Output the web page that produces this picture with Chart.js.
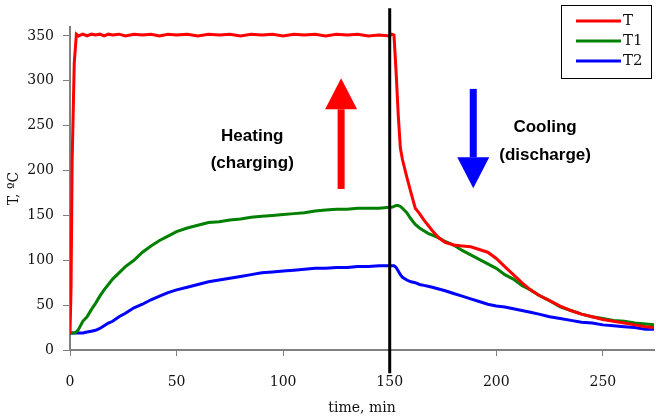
<!DOCTYPE html>
<html><head><meta charset="utf-8">
<script src="https://cdn.jsdelivr.net/npm/chart.js@4/dist/chart.umd.min.js"></script>
<style>html,body{margin:0;padding:0;background:#fff;}#wrap{width:656px;height:417px;position:relative;}</style>
</head><body><div id="wrap"><canvas id="c" width="656" height="417"></canvas></div>
<script>
// time, min
const time = [0,0.5,1,2,3,4,6,8,10,12,14,16,18,20,23,26,30,34,38,42,46,50,
  55,60,65,70,75,80,85,90,95,100,105,110,115,120,125,130,135,140,145,150,
  151,152,153,154,155,156,158,160,162,164,166,168,170,173,176,
  180,184,188,192,196,200,204,208,212,216,220,
  225,230,235,240,245,250,255,260,265,270,274];
const T = [18,70,210,320,352,350,352,350,352,351,352,350,352,351,352,350,352,351,352,350,352,351,
  352,350,352,351,352,350,352,351,352,350,352,351,352,350,352,351,352,350,351,350,
  352,351,310,262,225,212,193,175,158,152,145,139,133,125,120,
  117,116,115,112,109,102,93,84,75,67,61,
  55,49,44,40,37,34,32,30,28,26,25];
const T1 = [19,19,19,19,20,23,32,37,45,52,60,67,73,79,86,93,100,109,116,122,127,132,
  136,139,142,143,145,146,148,149,150,151,152,153,155,156,157,157,158,158,158,159,
  159,160,161,161,160,158,153,146,140,136,133,130,128,125,121,
  117,111,106,101,96,91,84,79,72,67,61,
  55,48,44,40,37,35,33,32,30,29,28];
const T2 = [19,19,19,19,19,19,19,20,21,22,24,27,30,32,37,41,47,51,56,60,64,67,
  70,73,76,78,80,82,84,86,87,88,89,90,91,91,92,92,93,93,94,94,
  94,94,92,88,84,81,78,76,75,73,72,71,70,68,66,
  63,60,57,54,51,49,48,46,44,42,40,
  37,35,33,31,30,28,27,26,25,23,23];
const seriesNames = ['T','T1','T2'];
const seriesColors = ['#ff0000','#008000','#0000ff'];
const xTickValues = [0,50,100,150,200,250];
const yTickValues = [0,50,100,150,200,250,300,350];
const switchTime = 150;

const toPts = arr => time.map((t,i)=>({x:t,y:arr[i]}));
const serif = 'DejaVu Serif';

const annotations = {
  texts: [
    {lines:['Heating','(charging)'], x:85.5, y:[237.8,208.5]},
    {lines:['Cooling','(discharge)'], x:222.9, y:[247.8,217.4]}
  ],
  arrows: [
    {x:127.2, from:179.5, base:268.3, tip:303, color:'#ff0000'},
    {x:189.2, from:291, base:214.8, tip:180.3, color:'#0000ff'}
  ]
};

const overlay = {
  id:'overlay',
  afterDatasetsDraw(chart){
    const ctx = chart.ctx, xs = chart.scales.x, ys = chart.scales.y;
    ctx.save();
    const vx = xs.getPixelForValue(switchTime);
    ctx.strokeStyle='#000'; ctx.lineWidth=3;
    ctx.beginPath(); ctx.moveTo(vx, ys.getPixelForValue(381)); ctx.lineTo(vx, ys.getPixelForValue(-26)); ctx.stroke();
    annotations.arrows.forEach(a=>{
      const x = xs.getPixelForValue(a.x);
      const y0 = ys.getPixelForValue(a.from), yb = ys.getPixelForValue(a.base), yt = ys.getPixelForValue(a.tip);
      ctx.fillStyle=a.color;
      ctx.fillRect(x-3.5, Math.min(y0,yb), 7, Math.abs(yb-y0));
      ctx.beginPath(); ctx.moveTo(x-16, yb); ctx.lineTo(x+16, yb); ctx.lineTo(x, yt); ctx.closePath(); ctx.fill();
    });
    ctx.fillStyle='#000'; ctx.font='bold 17px "Liberation Sans", Arial, sans-serif';
    ctx.textAlign='center'; ctx.textBaseline='middle';
    annotations.texts.forEach(t=>{
      t.lines.forEach((l,i)=>ctx.fillText(l, xs.getPixelForValue(t.x), ys.getPixelForValue(t.y[i])));
    });
    const lx = 561, ly = 5, lw = 90, lh = 73;
    ctx.fillStyle='#fff'; ctx.fillRect(lx,ly,lw,lh);
    ctx.strokeStyle='#000'; ctx.lineWidth=1; ctx.strokeRect(lx+0.5,ly+0.5,lw,lh);
    ctx.font='15px "'+serif+'"'; ctx.textAlign='left'; ctx.textBaseline='middle';
    chart.data.datasets.forEach((d,i)=>{
      const yy = ly + 16 + i*20;
      ctx.strokeStyle=d.borderColor; ctx.lineWidth=3;
      ctx.beginPath(); ctx.moveTo(lx+15, yy); ctx.lineTo(lx+60, yy); ctx.stroke();
      ctx.fillStyle='#111'; ctx.fillText(d.label, lx+62, yy);
    });
    ctx.restore();
  }
};

new Chart(document.getElementById('c'), {
  type:'line',
  data:{datasets:[T,T1,T2].map((arr,i)=>({
    label:seriesNames[i], data:toPts(arr), borderColor:seriesColors[i], backgroundColor:seriesColors[i],
    borderWidth:3, pointRadius:0, tension:0, fill:false
  }))},
  options:{
    responsive:false, animation:false, devicePixelRatio:1,
    layout:{padding:{top:27,right:2,bottom:0,left:0}},
    plugins:{legend:{display:false}, tooltip:{enabled:false}},
    scales:{
      x:{type:'linear', min:0, max:274,
        afterBuildTicks:s=>{s.ticks = xTickValues.map(v=>({value:v}));},
        afterFit:s=>{s.height=67;},
        border:{color:'#808080', width:2},
        grid:{drawOnChartArea:false, drawTicks:true, tickLength:6, color:'#808080'},
        ticks:{color:'#111', font:{family:serif,size:14}, padding:18, maxRotation:0, autoSkip:false},
        title:{display:true, text:'time, min', color:'#111', font:{family:serif,size:14}, padding:{top:0,bottom:0}}
      },
      y:{min:0, max:360,
        afterBuildTicks:s=>{s.ticks = yTickValues.map(v=>({value:v}));},
        afterFit:s=>{s.width=70;},
        border:{color:'#808080', width:2},
        grid:{drawOnChartArea:false, drawTicks:true, tickLength:7, color:'#808080'},
        ticks:{color:'#111', font:{family:serif,size:14}, padding:9, autoSkip:false},
        title:{display:true, text:'T, ºC', color:'#111', font:{family:serif,size:14}, padding:{top:6,bottom:0}}
      }
    }
  },
  plugins:[overlay]
});
</script></body></html>
